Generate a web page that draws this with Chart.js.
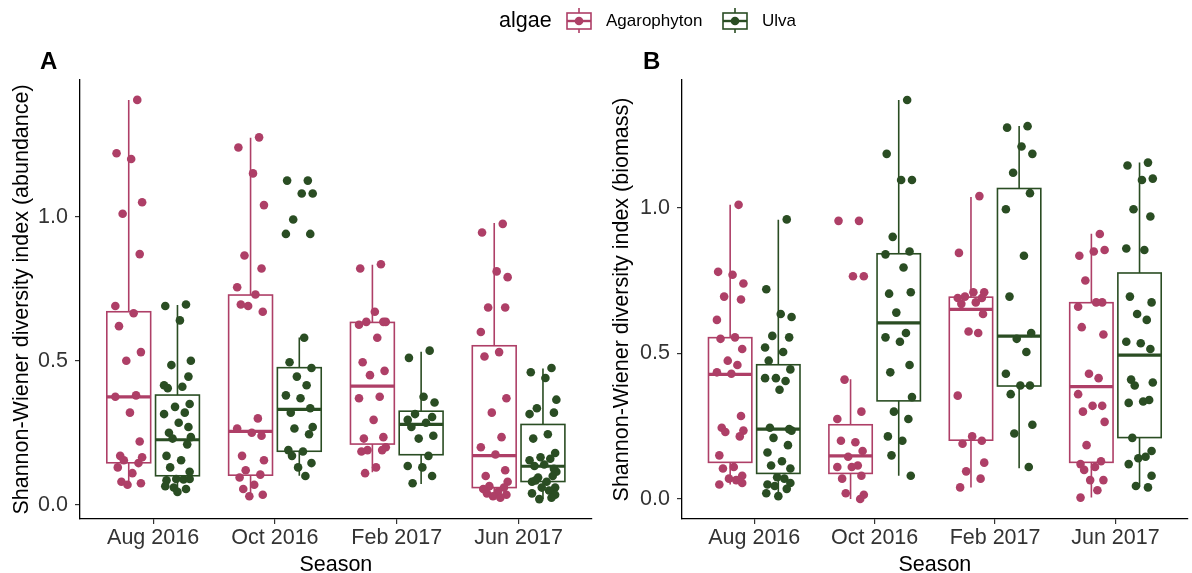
<!DOCTYPE html>
<html>
<head>
<meta charset="UTF-8">
<title>Shannon-Wiener diversity by season</title>
<script src="https://cdn.jsdelivr.net/npm/chart.js@4.4.1/dist/chart.umd.min.js"></script>
<style>
  body { margin: 0; background: #fff; font-family: "Liberation Sans", Arial, sans-serif; }
  #wrap { position: relative; width: 1192px; height: 573px; overflow: hidden; }
  #wrap canvas { position: absolute; top: 0; }
  .lbl { position: absolute; white-space: nowrap; color: #000; }
  .tag { font-weight: bold; font-size: 24px; line-height: 24px; top: 49px; }
</style>
<script>
// seasons on the x axis and the two algae
var seasons = ['Aug 2016', 'Oct 2016', 'Feb 2017', 'Jun 2017'];
var algae = ['Agarophyton', 'Ulva'];
var yTicks = [0, 0.5, 1.0];

// Panel A - abundance, jittered samples per season
var abundAgaroAug = [1.405, 1.22, 1.20, 1.05, 1.01, 0.87, 0.69, 0.665, 0.62, 0.53, 0.50, 0.38, 0.375, 0.32, 0.22, 0.17, 0.165, 0.155, 0.145, 0.13, 0.11, 0.08, 0.075, 0.07];
var abundAgaroOct = [1.275, 1.24, 1.15, 1.04, 0.865, 0.82, 0.755, 0.73, 0.695, 0.67, 0.69, 0.30, 0.265, 0.25, 0.24, 0.17, 0.155, 0.12, 0.105, 0.095, 0.07, 0.055, 0.035, 0.03];
var abundAgaroFeb = [0.835, 0.82, 0.67, 0.635, 0.635, 0.635, 0.625, 0.58, 0.495, 0.465, 0.45, 0.375, 0.37, 0.295, 0.235, 0.23, 0.20, 0.19, 0.19, 0.185, 0.13, 0.11];
var abundAgaroJun = [0.975, 0.945, 0.81, 0.79, 0.685, 0.685, 0.60, 0.53, 0.515, 0.37, 0.32, 0.235, 0.20, 0.175, 0.12, 0.10, 0.08, 0.065, 0.06, 0.055, 0.045, 0.04, 0.035, 0.03, 0.025];
var abundUlvaAug = [0.695, 0.69, 0.64, 0.50, 0.485, 0.445, 0.415, 0.41, 0.405, 0.35, 0.34, 0.32, 0.315, 0.285, 0.27, 0.25, 0.235, 0.23, 0.21, 0.17, 0.155, 0.13, 0.115, 0.09, 0.088, 0.085, 0.09, 0.06, 0.055, 0.065, 0.045];
var abundUlvaOct = [1.125, 1.125, 1.08, 1.08, 0.99, 0.94, 0.94, 0.58, 0.495, 0.475, 0.445, 0.415, 0.38, 0.37, 0.335, 0.32, 0.27, 0.265, 0.245, 0.19, 0.185, 0.17, 0.145, 0.13, 0.10];
var abundUlvaFeb = [0.535, 0.51, 0.375, 0.355, 0.315, 0.305, 0.295, 0.285, 0.27, 0.24, 0.23, 0.17, 0.135, 0.13, 0.10, 0.075];
var abundUlvaJun = [0.475, 0.46, 0.44, 0.365, 0.335, 0.32, 0.315, 0.245, 0.23, 0.18, 0.165, 0.16, 0.155, 0.14, 0.125, 0.135, 0.115, 0.095, 0.10, 0.08, 0.08, 0.085, 0.06, 0.06, 0.05, 0.04, 0.035, 0.02, 0.025];

// Panel A box stats per season: [lower whisker, Q1, median, Q3, upper whisker]
var abundAgaroBox = [[0.07, 0.146, 0.375, 0.670, 1.405], [0.03, 0.103, 0.255, 0.728, 1.274], [0.113, 0.211, 0.412, 0.633, 0.833], [0.025, 0.060, 0.171, 0.552, 0.978]];
var abundUlvaBox = [[0.045, 0.101, 0.226, 0.381, 0.693], [0.101, 0.186, 0.331, 0.476, 0.581], [0.072, 0.174, 0.279, 0.325, 0.531], [0.02, 0.081, 0.134, 0.279, 0.473]];

// Panel B - biomass
var bioAgaroAug = [1.01, 0.78, 0.77, 0.74, 0.695, 0.685, 0.615, 0.555, 0.55, 0.515, 0.475, 0.46, 0.435, 0.43, 0.285, 0.245, 0.235, 0.23, 0.215, 0.15, 0.11, 0.105, 0.08, 0.07, 0.065, 0.05, 0.055];
var bioAgaroOct = [0.955, 0.955, 0.765, 0.765, 0.41, 0.30, 0.275, 0.195, 0.20, 0.165, 0.145, 0.115, 0.11, 0.11, 0.08, 0.07, 0.015, 0.02, 0.0];
var bioAgaroFeb = [1.04, 0.845, 0.71, 0.71, 0.695, 0.69, 0.69, 0.675, 0.67, 0.635, 0.575, 0.57, 0.355, 0.215, 0.20, 0.19, 0.125, 0.095, 0.07, 0.04];
var bioAgaroJun = [0.91, 0.835, 0.85, 0.855, 0.75, 0.675, 0.66, 0.675, 0.59, 0.565, 0.43, 0.415, 0.36, 0.32, 0.32, 0.30, 0.265, 0.185, 0.13, 0.12, 0.11, 0.10, 0.065, 0.065, 0.03, 0.005];
var bioUlvaAug = [0.96, 0.72, 0.635, 0.625, 0.56, 0.555, 0.52, 0.505, 0.475, 0.445, 0.415, 0.405, 0.415, 0.375, 0.24, 0.245, 0.235, 0.21, 0.185, 0.16, 0.13, 0.115, 0.105, 0.075, 0.07, 0.05, 0.055, 0.045, 0.035, 0.02, 0.01];
var bioUlvaOct = [1.37, 1.185, 1.095, 1.095, 0.90, 0.85, 0.84, 0.795, 0.705, 0.71, 0.64, 0.57, 0.555, 0.54, 0.46, 0.435, 0.35, 0.30, 0.275, 0.215, 0.20, 0.15, 0.08];
var bioUlvaFeb = [1.28, 1.275, 1.21, 1.185, 1.12, 1.05, 0.995, 0.835, 0.695, 0.57, 0.55, 0.505, 0.43, 0.39, 0.39, 0.36, 0.255, 0.225, 0.11];
var bioUlvaJun = [1.155, 1.145, 1.095, 1.10, 0.995, 0.97, 0.86, 0.855, 0.695, 0.675, 0.635, 0.615, 0.54, 0.535, 0.515, 0.41, 0.40, 0.39, 0.34, 0.33, 0.335, 0.21, 0.165, 0.14, 0.145, 0.12, 0.08, 0.045, 0.04];

var bioAgaroBox = [[0.05, 0.126, 0.428, 0.554, 1.010], [0.0, 0.088, 0.148, 0.255, 0.411], [0.04, 0.202, 0.651, 0.693, 1.037], [0.005, 0.126, 0.386, 0.674, 0.911]];
var bioUlvaBox = [[0.011, 0.088, 0.240, 0.461, 0.959], [0.080, 0.337, 0.605, 0.842, 1.370], [0.106, 0.388, 0.559, 1.066, 1.281], [0.042, 0.211, 0.494, 0.776, 1.155]];

// look
var FONT = '"Liberation Sans", Arial, sans-serif';
var COLORS = { Agarophyton: '#AE3F67', Ulva: '#2A4D23' };
var DODGE = 0.2, BOX_W = 0.36;
// fixed horizontal spread of the points (category units)
var JITTER = [0.07, -0.10, 0.02, 0.11, -0.05, 0.09, -0.11, 0.04, -0.08, 0.10, -0.02, 0.06, -0.11, 0.01, 0.09, -0.07, 0.11, -0.04, 0.08, -0.09, 0.03, -0.06, 0.10, -0.01, 0.05, -0.09, 0.10, -0.03, 0.07, -0.10, 0.0];

function pointData(lists, offset) {
  var pts = [];
  lists.forEach(function (vals, s) {
    vals.forEach(function (v, k) {
      pts.push({ x: s + 1 + offset + JITTER[k % JITTER.length], y: v });
    });
  });
  return pts;
}

function boxPlugin(boxes) {
  return {
    id: 'boxes',
    beforeDatasetsDraw: function (chart) {
      var ctx = chart.ctx, xs = chart.scales.x, ys = chart.scales.y;
      ctx.save();
      boxes.forEach(function (b) {
        ctx.strokeStyle = b.color;
        b.stats.forEach(function (st, s) {
          var c = s + 1 + b.offset;
          var xl = xs.getPixelForValue(c - BOX_W / 2);
          var xr = xs.getPixelForValue(c + BOX_W / 2);
          var xc = xs.getPixelForValue(c);
          var lo = ys.getPixelForValue(st[0]), q1 = ys.getPixelForValue(st[1]);
          var md = ys.getPixelForValue(st[2]), q3 = ys.getPixelForValue(st[3]);
          var hi = ys.getPixelForValue(st[4]);
          ctx.lineWidth = 1.6;
          ctx.beginPath();
          ctx.moveTo(xc, hi); ctx.lineTo(xc, q3);
          ctx.moveTo(xc, q1); ctx.lineTo(xc, lo);
          ctx.stroke();
          ctx.strokeRect(xl, q3, xr - xl, q1 - q3);
          ctx.lineWidth = 3.2;
          ctx.beginPath();
          ctx.moveTo(xl, md); ctx.lineTo(xr, md);
          ctx.stroke();
        });
      });
      ctx.restore();
    }
  };
}

function axisStyle() {
  return {
    grid: { display: true, drawOnChartArea: false, drawTicks: true, tickLength: 5, color: '#333', lineWidth: 1.2 },
    border: { display: true, color: '#000', width: 1.3 }
  };
}

function makePanel(id, agaroLists, ulvaLists, agaroBox, ulvaBox, yMin, yMax, yWidth, padRight, yTitle) {
  var xAx = axisStyle(), yAx = axisStyle();
  Object.assign(xAx, {
    type: 'linear', min: 0.4, max: 4.6,
    afterBuildTicks: function (sc) { sc.ticks = seasons.map(function (_, i) { return { value: i + 1 }; }); },
    afterFit: function (sc) { sc.height = 54; },
    ticks: { autoSkip: false, maxRotation: 0, padding: 1, color: '#333', font: { family: FONT, size: 21.5 },
      callback: function (v, i) { return seasons[i]; } },
    title: { display: true, text: 'Season', color: '#000', font: { family: FONT, size: 21.5, lineHeight: 0.7 }, padding: { top: 0, bottom: 0.5 } }
  });
  Object.assign(yAx, {
    type: 'linear', min: yMin, max: yMax,
    afterBuildTicks: function (sc) { sc.ticks = yTicks.map(function (v) { return { value: v }; }); },
    afterFit: function (sc) { sc.width = yWidth; },
    ticks: { padding: 7, color: '#333', font: { family: FONT, size: 21.5 },
      callback: function (v) { return v.toFixed(1); } },
    title: { display: true, text: yTitle, color: '#000', font: { family: FONT, size: 21.5 }, padding: { top: 9, bottom: 0 } }
  });

  return new Chart(document.getElementById(id), {
    type: 'scatter',
    data: {
      datasets: [
        { label: algae[0], data: pointData(agaroLists, -DODGE), backgroundColor: COLORS.Agarophyton, pointRadius: 4.3, borderWidth: 0 },
        { label: algae[1], data: pointData(ulvaLists, DODGE), backgroundColor: COLORS.Ulva, pointRadius: 4.3, borderWidth: 0 }
      ]
    },
    options: {
      responsive: false,
      animation: false,
      events: [],
      layout: { padding: { top: 80, right: padRight, bottom: 0, left: 0 } },
      plugins: { legend: { display: false }, tooltip: { enabled: false } },
      scales: { x: xAx, y: yAx }
    },
    plugins: [boxPlugin([
      { stats: agaroBox, offset: -DODGE, color: COLORS.Agarophyton },
      { stats: ulvaBox, offset: DODGE, color: COLORS.Ulva }
    ])]
  });
}

function drawKey(id, color) {
  var ctx = document.getElementById(id).getContext('2d');
  ctx.strokeStyle = color;
  ctx.fillStyle = color;
  ctx.lineWidth = 1.6;
  ctx.beginPath();
  ctx.moveTo(13, 1); ctx.lineTo(13, 26);
  ctx.stroke();
  ctx.fillStyle = '#fff';
  ctx.fillRect(1, 6, 24, 16);
  ctx.strokeRect(1, 6, 24, 16);
  ctx.lineWidth = 2.4;
  ctx.beginPath(); ctx.moveTo(1, 14); ctx.lineTo(25, 14); ctx.stroke();
  ctx.fillStyle = color;
  ctx.beginPath(); ctx.arc(13, 14, 4.3, 0, Math.PI * 2); ctx.fill();
}

window.onload = function () {
  makePanel('chartA', [abundAgaroAug, abundAgaroOct, abundAgaroFeb, abundAgaroJun],
    [abundUlvaAug, abundUlvaOct, abundUlvaFeb, abundUlvaJun], abundAgaroBox, abundUlvaBox,
    -0.049, 1.474, 80, 3, 'Shannon-Wiener diversity index (abundance)');
  makePanel('chartB', [bioAgaroAug, bioAgaroOct, bioAgaroFeb, bioAgaroJun],
    [bioUlvaAug, bioUlvaOct, bioUlvaFeb, bioUlvaJun], bioAgaroBox, bioUlvaBox,
    -0.0685, 1.4385, 82, 4, 'Shannon-Wiener diversity index (biomass)');
  drawKey('keyA', COLORS.Agarophyton);
  drawKey('keyU', COLORS.Ulva);
};
</script>
</head>
<body>
<div id="wrap">
  <canvas id="chartA" width="596" height="573" style="left:0"></canvas>
  <canvas id="chartB" width="592" height="573" style="left:600px"></canvas>
  <div class="lbl" style="left:499px;top:7px;font-size:21.5px;line-height:27px;">algae</div>
  <canvas id="keyU" width="27" height="27" style="left:722px;top:7px"></canvas>
  <canvas id="keyA" width="27" height="27" style="left:566px;top:7px"></canvas>
  <div class="lbl" style="left:606px;top:7px;font-size:17px;line-height:27px;">Agarophyton</div>
  <div class="lbl" style="left:762px;top:7px;font-size:17px;line-height:27px;">Ulva</div>
  <div class="lbl tag" style="left:40px;">A</div>
  <div class="lbl tag" style="left:643px;">B</div>
</div>
</body>
</html>
